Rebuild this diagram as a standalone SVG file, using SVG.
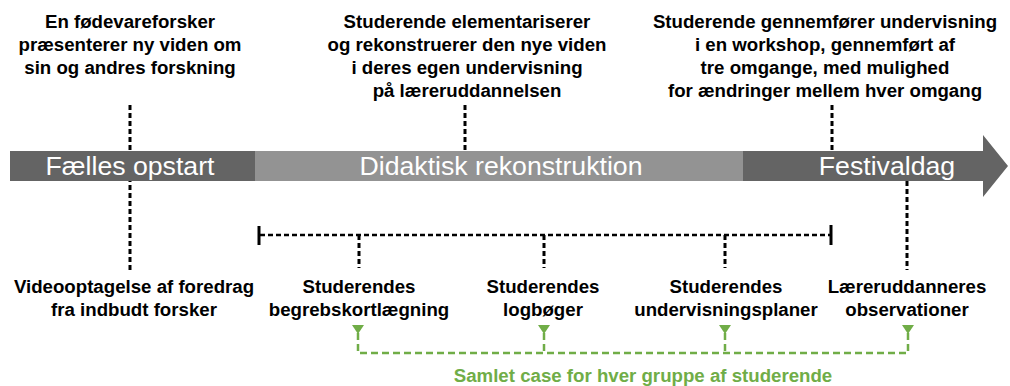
<svg xmlns="http://www.w3.org/2000/svg" width="1010" height="386" viewBox="0 0 1010 386">
<style>
.t{font-family:"Liberation Sans",Arial,sans-serif;font-weight:bold;font-size:18.67px;fill:#000;text-anchor:middle}
.b{font-family:"Liberation Sans",Arial,sans-serif;font-size:26.67px;fill:#fff;text-anchor:middle}
.g{font-family:"Liberation Sans",Arial,sans-serif;font-weight:bold;font-size:18.67px;fill:#70AD47;text-anchor:middle}
.d{stroke:#000;stroke-width:3;stroke-dasharray:5 3;fill:none}
.h{stroke:#000;stroke-width:2.5;stroke-dasharray:5 3;fill:none}
.k{stroke:#000;stroke-width:3;fill:none}
.gl{stroke:#70AD47;stroke-width:2.5;stroke-dasharray:7 4;fill:none}
.gh{fill:#70AD47}
</style>
<rect width="1010" height="386" fill="#fff"/>
<g id="connectors">
<line class="d" x1="130" y1="105" x2="130" y2="273"/>
<line class="d" x1="465" y1="105" x2="465" y2="151"/>
<line class="d" x1="832" y1="105" x2="832" y2="151"/>
<line class="d" x1="907" y1="181" x2="907" y2="270"/>
<line class="h" x1="260" y1="235" x2="831" y2="235"/>
<line class="k" x1="259" y1="226" x2="259" y2="245"/>
<line class="k" x1="831" y1="225" x2="831" y2="245"/>
<line class="d" x1="359" y1="235" x2="359" y2="268"/>
<line class="d" x1="544" y1="235" x2="544" y2="268"/>
<line class="d" x1="725" y1="235" x2="725" y2="268"/>
<path class="gl" d="M358,333 V353 H908 V333 M544,333 V353 M725,333 V353"/>
<polygon class="gh" points="352,325 364,325 358,334"/>
<polygon class="gh" points="538,325 550,325 544,334"/>
<polygon class="gh" points="719,325 731,325 725,334"/>
<polygon class="gh" points="902,325 914,325 908,334"/>
</g>
<g id="timeline">
<rect x="10" y="151" width="246" height="30" fill="#646464"/>
<rect x="255" y="151" width="489" height="30" fill="#939393"/>
<polygon points="743,151 983,151 983,135 1008,166 983,197 983,181 743,181" fill="#646464"/>
<text class="b" x="130" y="175">Fælles opstart</text>
<text class="b" x="501" y="175">Didaktisk rekonstruktion</text>
<text class="b" x="887" y="175">Festivaldag</text>
</g>
<g id="top1">
<text class="t" x="130" y="28">En fødevareforsker</text>
<text class="t" x="130" y="51">præsenterer ny viden om</text>
<text class="t" x="130" y="74">sin og andres forskning</text>
</g>
<g id="top2">
<text class="t" x="467" y="28">Studerende elementariserer</text>
<text class="t" x="467" y="51">og rekonstruerer den nye viden</text>
<text class="t" x="467" y="74">i deres egen undervisning</text>
<text class="t" x="467" y="97">på læreruddannelsen</text>
</g>
<g id="top3">
<text class="t" x="825" y="28">Studerende gennemfører undervisning</text>
<text class="t" x="825" y="51">i en workshop, gennemført af</text>
<text class="t" x="825" y="74">tre omgange, med mulighed</text>
<text class="t" x="825" y="97">for ændringer mellem hver omgang</text>
</g>
<g id="bottom1">
<text class="t" x="134" y="293">Videooptagelse af foredrag</text>
<text class="t" x="134" y="316">fra indbudt forsker</text>
</g>
<g id="bottom2">
<text class="t" x="359" y="293">Studerendes</text>
<text class="t" x="359" y="316">begrebskortlægning</text>
</g>
<g id="bottom3">
<text class="t" x="543" y="293">Studerendes</text>
<text class="t" x="543" y="316">logbøger</text>
</g>
<g id="bottom4">
<text class="t" x="726" y="293">Studerendes</text>
<text class="t" x="726" y="316">undervisningsplaner</text>
</g>
<g id="bottom5">
<text class="t" x="907" y="293">Læreruddanneres</text>
<text class="t" x="907" y="316">observationer</text>
</g>
<g id="caption">
<text class="g" x="643" y="382">Samlet case for hver gruppe af studerende</text>
</g>
</svg>
